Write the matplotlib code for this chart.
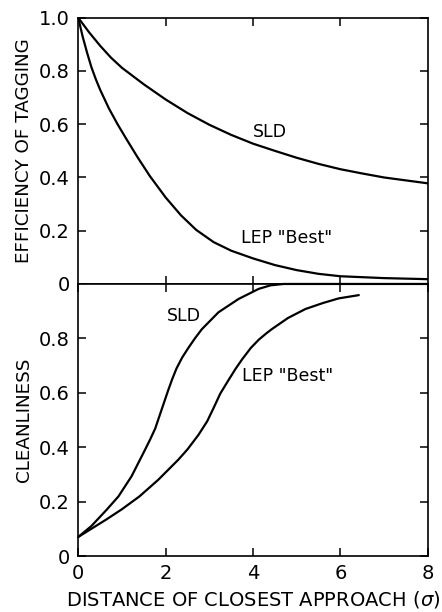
import matplotlib
matplotlib.use('Agg')
import matplotlib.pyplot as plt

# ============================================================================
# Data
# ============================================================================

# efficiency of tagging vs distance of closest approach (sigma)
eff_sld_x = [0, 0.25, 0.5, 0.75, 1, 1.5, 2, 2.5, 3, 3.5, 4, 4.5, 5, 5.5, 6, 6.5, 7, 7.5, 8]
eff_sld = [1.0, 0.945, 0.895, 0.85, 0.812, 0.75, 0.693, 0.642, 0.598, 0.56, 0.527,
           0.50, 0.474, 0.451, 0.431, 0.415, 0.40, 0.389, 0.378]
eff_lep_x = [0, 0.1, 0.2, 0.3, 0.4, 0.5, 0.7, 0.9, 1.1, 1.35, 1.64, 2, 2.35,
             2.7, 3.1, 3.5, 4, 4.5, 5, 5.5, 6, 7, 8]
eff_lep = [1.0, 0.93, 0.87, 0.815, 0.77, 0.73, 0.66, 0.60, 0.545, 0.478, 0.405,
           0.325, 0.258, 0.203, 0.157, 0.125, 0.096, 0.071, 0.052, 0.038,
           0.029, 0.022, 0.018]

# cleanliness vs distance of closest approach (sigma)
cl_sld_x = [0, 0.3, 0.65, 0.92, 1.22, 1.53, 1.65, 1.76, 1.91, 2.06, 2.15, 2.25, 2.38,
            2.52, 2.67, 2.83, 3.21, 3.67, 4.13, 4.4, 4.7, 8]
cl_sld = [0.07, 0.11, 0.17, 0.219, 0.293, 0.391, 0.43, 0.468, 0.539, 0.61, 0.65,
          0.69, 0.73, 0.765, 0.80, 0.834, 0.896, 0.945, 0.982, 0.995, 1.0, 1.0]
cl_lep_x = [0, 0.3, 0.65, 1.0, 1.4, 1.83, 2.29, 2.5, 2.75, 2.95, 3.1, 3.25, 3.44,
            3.6, 3.75, 3.95, 4.13, 4.3, 4.43, 4.8, 5.2, 5.6, 5.96, 6.42]
cl_lep = [0.07, 0.1, 0.135, 0.172, 0.219, 0.28, 0.354, 0.392, 0.445, 0.495, 0.545,
          0.597, 0.647, 0.688, 0.723, 0.765, 0.795, 0.818, 0.834, 0.875, 0.908, 0.93,
          0.947, 0.959]

# ============================================================================
# Plotting
# ============================================================================

plt.rcParams['font.family'] = 'DejaVu Sans'
fig = plt.figure(figsize=(4.42, 6.12), dpi=100)
ax1 = fig.add_axes([0.177, 0.536, 0.791, 0.435])
ax2 = fig.add_axes([0.177, 0.0915, 0.791, 0.4445])

line_kw = dict(color='black', lw=1.6, solid_joinstyle='round', solid_capstyle='round')

# top panel: tagging efficiency
ax1.plot(eff_sld_x, eff_sld, **line_kw)
ax1.plot(eff_lep_x, eff_lep, **line_kw)
ax1.text(4.39, 0.572, 'SLD', fontsize=12.5, ha='center', va='center')
ax1.text(4.77, 0.173, 'LEP "Best"', fontsize=12.5, ha='center', va='center')
ax1.set_xlim(0, 8)
ax1.set_ylim(0, 1.0)
ax1.set_yticks([0, 0.2, 0.4, 0.6, 0.8, 1.0])
ax1.set_yticklabels(['0', '0.2', '0.4', '0.6', '0.8', '1.0'])
ax1.set_xticks([2, 4, 6])
ax1.set_xticklabels([])
ax1.set_ylabel('EFFICIENCY OF TAGGING', fontsize=13.2)

# bottom panel: cleanliness
ax2.plot(cl_sld_x, cl_sld, clip_on=False, **line_kw)
ax2.plot(cl_lep_x, cl_lep, **line_kw)
ax2.text(2.41, 0.883, 'SLD', fontsize=12.5, ha='center', va='center')
ax2.text(4.78, 0.662, 'LEP "Best"', fontsize=12.5, ha='center', va='center')
ax2.set_xlim(0, 8)
ax2.set_ylim(0, 1.0)
ax2.set_yticks([0, 0.2, 0.4, 0.6, 0.8])
ax2.set_yticklabels(['0', '0.2', '0.4', '0.6', '0.8'])
ax2.set_xticks([0, 2, 4, 6, 8])
ax2.set_xticklabels(['0', '2', '4', '6', '8'])
ax2.set_ylabel('CLEANLINESS', fontsize=13.2)
ax2.set_xlabel('DISTANCE OF CLOSEST APPROACH ($\\sigma$)', fontsize=14, labelpad=4)

for ax in (ax1, ax2):
    ax.tick_params(direction='in', top=True, right=True, length=6, width=1.1,
                   labelsize=14, pad=6)
    for s in ax.spines.values():
        s.set_linewidth(1.2)

fig.savefig('out.png', dpi=100)
